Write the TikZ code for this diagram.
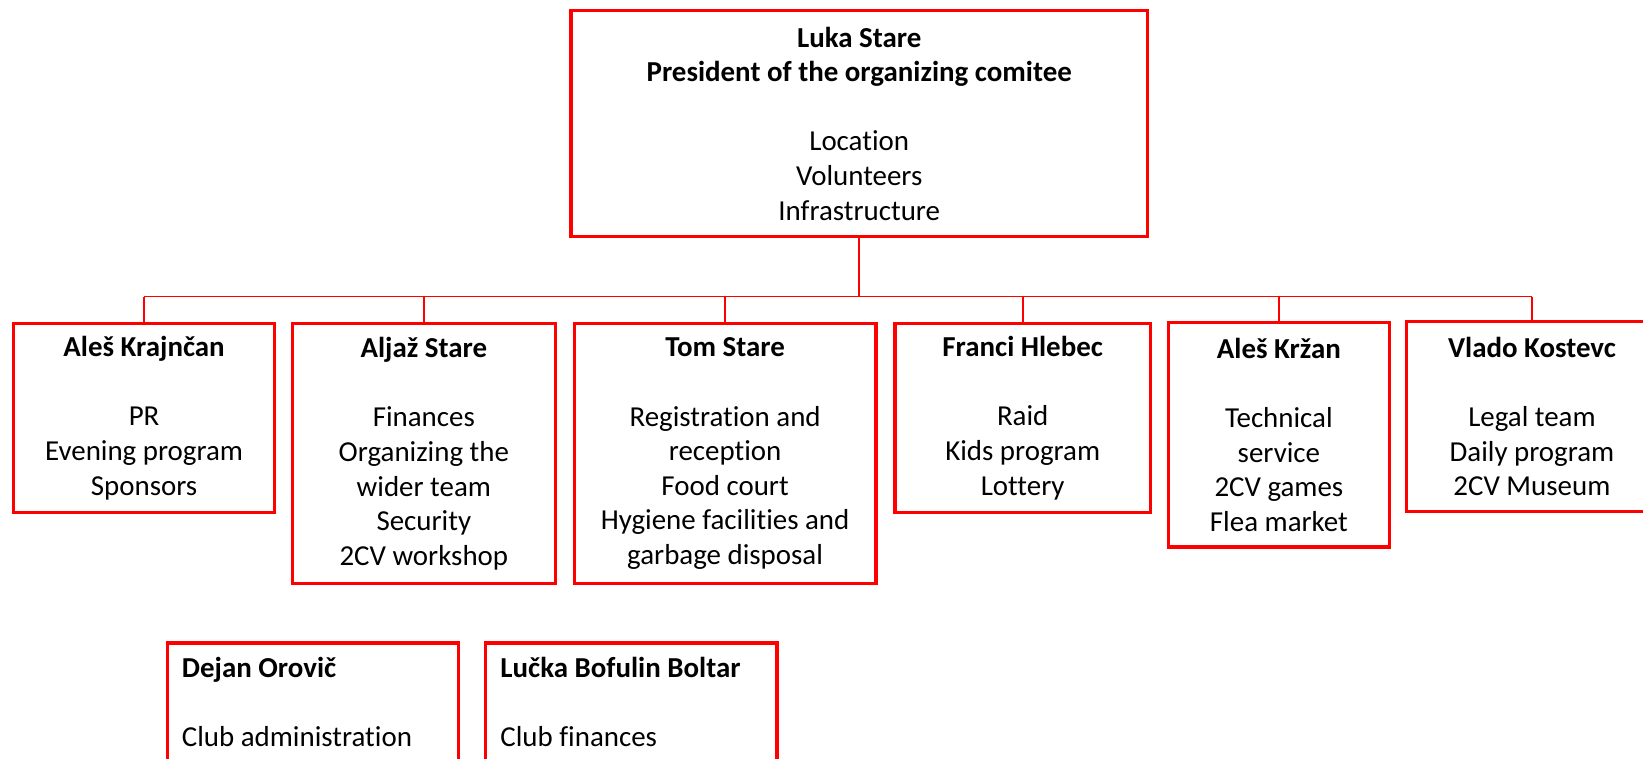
\documentclass[tikz,border=0pt]{standalone}
\usepackage{fontspec}
\setmainfont{Carlito}[Ligatures=NoCommon]
\usepackage{tikz}

\tikzset{
  member/.style={draw=red, line width=1.6pt, align=center, inner sep=0pt,
    font=\fontsize{13.8}{16.5}\selectfont},
  club/.style={draw=red, line width=1.6pt, align=flush left, anchor=north west,
    inner xsep=7pt, inner ysep=0pt, text height=16.5pt, text depth=80pt,
    font=\fontsize{13.8}{16.5}\selectfont},
  link/.style={draw=red, line width=0.9pt}
}

\begin{document}
\begin{tikzpicture}[x=0.5pt, y=-0.5pt]
        \useasboundingbox (0, 0) rectangle (1568, 724);
        \clip (0, 0) rectangle (1568, 724);
        \node[member, minimum width=275pt, minimum height=108pt] (luka) at (820, 118)
          {\textbf{Luka Stare}\\\textbf{President of the organizing comitee}\\[16.5pt]Location\\Volunteers\\Infrastructure};
        \node[member, minimum width=124.5pt, minimum height=90pt] (krajncan) at (137.5, 399)
          {\textbf{Aleš Krajnčan}\\[16.5pt]PR\\Evening program\\Sponsors};
        \node[member, minimum width=125.5pt, minimum height=124pt] (aljaz) at (404.5, 433)
          {\textbf{Aljaž Stare}\\[16.5pt]Finances\\Organizing the\\wider team\\Security\\2CV workshop};
        \node[member, minimum width=144pt, minimum height=124pt] (tom) at (692, 433)
          {\textbf{Tom Stare}\\[16.5pt]Registration and\\reception\\Food court\\Hygiene facilities and\\garbage disposal};
        \node[member, minimum width=122pt, minimum height=90pt] (franci) at (976, 399)
          {\textbf{Franci Hlebec}\\[16.5pt]Raid\\Kids program\\Lottery};
        \node[member, minimum width=105.5pt, minimum height=107pt] (krzan) at (1220.5, 415)
          {\textbf{Aleš Kržan}\\[16.5pt]Technical\\service\\2CV games\\Flea market};
        \node[member, minimum width=120pt, minimum height=90.5pt] (vlado) at (1462, 397.5)
          {\textbf{Vlado Kostevc}\\[16.5pt]Legal team\\Daily program\\2CV Museum};
        \node[club, text width=125pt] (dejan) at (158, 612)
          {\textbf{Dejan Orovič}\\[16.5pt]Club administration};
        \node[club, text width=125pt] (lucka) at (462, 612)
          {\textbf{Lučka Bofulin Boltar}\\[16.5pt]Club finances};
        \coordinate (bus) at (820, 283);
        \draw[link] (luka.south) -- (bus);
        \draw[link] (bus -| krajncan.north) -- (bus -| vlado.north);
        \foreach \who in {krajncan, aljaz, tom, franci, krzan, vlado}
          \draw[link] (bus -| \who.north) -- (\who.north);
      \end{tikzpicture}
\end{document}
